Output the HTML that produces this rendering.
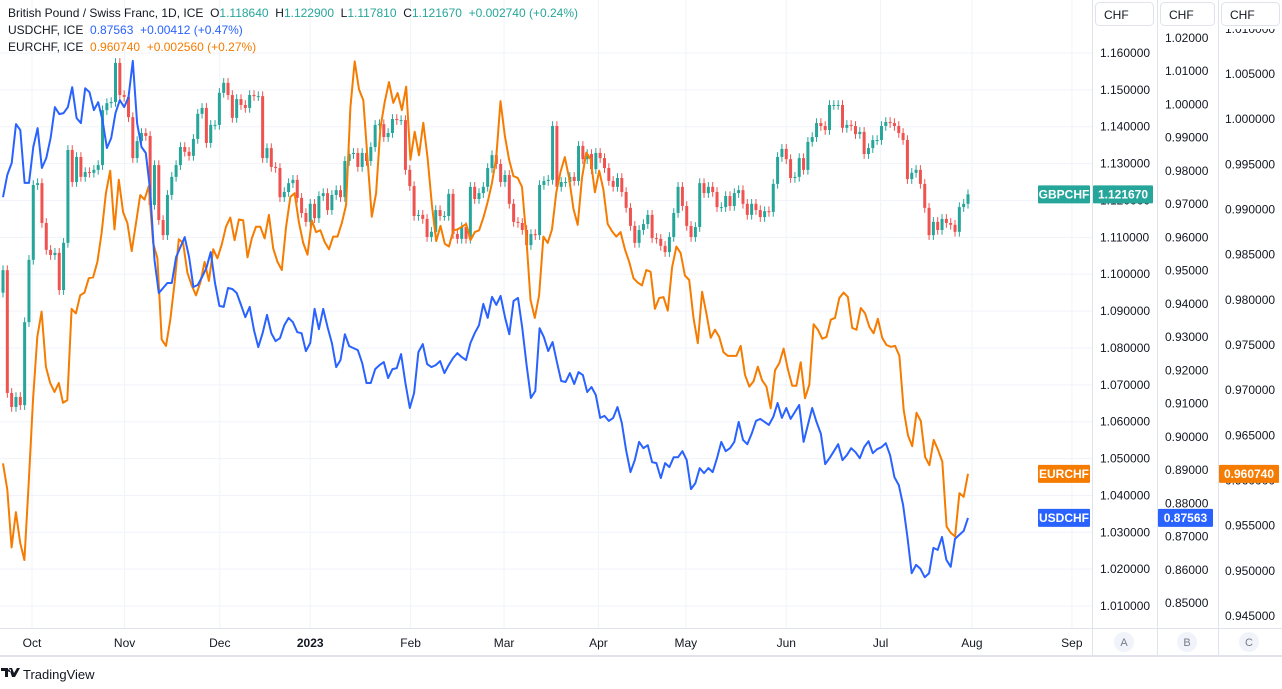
<!DOCTYPE html>
<html><head><meta charset="utf-8">
<style>
html,body{margin:0;padding:0;background:#fff;width:1282px;height:689px;overflow:hidden;font-family:"Liberation Sans",sans-serif;}
svg text{font-family:"Liberation Sans",sans-serif;white-space:pre;}
</style></head>
<body>
<svg id="chart" width="1282" height="689" viewBox="0 0 1282 689" xmlns="http://www.w3.org/2000/svg">
  <g id="grid"></g>
  <g id="candles"></g>
  <g id="lines"></g>
  <g id="axes"></g>
  <g font-size="12">
    <text x="8" y="17" fill="#131722" xml:space="preserve">British Pound / Swiss Franc, 1D, ICE  <tspan fill="#131722">O</tspan><tspan fill="#26a69a">1.118640</tspan>  <tspan fill="#131722">H</tspan><tspan fill="#26a69a">1.122900</tspan>  <tspan fill="#131722">L</tspan><tspan fill="#26a69a">1.117810</tspan>  <tspan fill="#131722">C</tspan><tspan fill="#26a69a">1.121670  +0.002740 (+0.24%)</tspan></text>
    <text x="8" y="34" fill="#131722" xml:space="preserve">USDCHF, ICE  <tspan fill="#2962ff">0.87563  +0.00412 (+0.47%)</tspan></text>
    <text x="8" y="51" fill="#131722" xml:space="preserve">EURCHF, ICE  <tspan fill="#f57c00">0.960740  +0.002560 (+0.27%)</tspan></text>
  </g>
  <g>
    <path d="M1 668h7v9h-3v-6H1z M9 668h3l2 5 3-5h3l-5 9h-3z M9.5 669a1.5 1.5 0 1 0 0.01 0" fill="#131722"/>
    <text x="23" y="679" font-size="13" fill="#131722">TradingView</text>
  </g>
</svg>
<script>
// ---- data ----
const gbpchfClose = [1.1011,1.0678,1.0640,1.0667,1.0645,1.0870,1.1039,1.1242,1.1247,1.1139,1.1066,1.1052,1.1058,1.0957,1.1085,1.1337,1.1250,1.1318,1.1264,1.1277,1.1275,1.1283,1.1296,1.1445,1.1464,1.1467,1.1573,1.1486,1.1481,1.1426,1.1315,1.1361,1.1383,1.1375,1.1188,1.1296,1.1147,1.1106,1.1215,1.1264,1.1296,1.1345,1.1332,1.1321,1.1367,1.1435,1.1451,1.1356,1.1405,1.1405,1.1492,1.1519,1.1486,1.1424,1.1475,1.1459,1.1451,1.1486,1.1483,1.1483,1.1315,1.1342,1.1291,1.1288,1.1209,1.1223,1.1247,1.1256,1.1207,1.1166,1.1142,1.1191,1.1152,1.1212,1.1220,1.1174,
1.1215,1.1228,1.1209,1.1307,1.1326,1.1329,1.1291,1.1329,1.1307,1.1345,1.1405,1.1407,1.1372,1.1383,1.1421,1.1418,1.1418,1.1283,1.1239,1.1158,1.1161,1.1150,1.1101,1.1115,1.1174,1.1158,1.1158,1.1218,1.1109,1.1096,1.1128,1.1096,1.1237,1.1204,1.1220,1.1237,1.1288,1.1323,1.1299,1.1250,1.1269,1.1191,1.1142,1.1139,1.1120,1.1079,1.1109,1.1106,1.1242,1.1253,1.1256,1.1402,1.1237,1.1250,1.1250,1.1264,1.1253,1.1348,1.1312,1.1326,1.1285,1.1329,1.1315,1.1288,1.1253,1.1237,1.1261,1.1223,1.1180,1.1131,1.1085,1.1120,1.1136,1.1161,
1.1098,1.1096,1.1077,1.1060,1.1101,1.1166,1.1237,1.1185,1.1131,1.1101,1.1128,1.1247,1.1220,1.1237,1.1223,1.1182,1.1182,1.1212,1.1185,1.1220,1.1228,1.1191,1.1161,1.1191,1.1174,1.1155,1.1171,1.1169,1.1245,1.1318,1.1340,1.1312,1.1261,1.1264,1.1315,1.1283,1.1359,1.1372,1.1410,1.1402,1.1391,1.1459,1.1459,1.1459,1.1397,1.1405,1.1402,1.1380,1.1386,1.1326,1.1342,1.1364,1.1364,1.1402,1.1413,1.1410,1.1402,1.1383,1.1364,1.1258,1.1275,1.1283,1.1245,1.1180,1.1106,1.1142,1.1120,1.1150,1.1139,1.1134,1.1115,1.1182,1.1191,1.12167];
const usdchf = [0.9721,0.9788,0.9824,0.9941,0.9923,0.9764,0.9764,0.9872,0.9929,0.9809,0.9839,0.9899,0.9992,0.9971,0.9974,0.9992,1.0052,0.9959,0.9944,1.0049,1.0037,0.9983,1.0007,0.9953,0.9869,0.9899,0.9974,1.0013,0.9992,1.0022,1.0131,0.9944,0.9872,0.9854,0.9743,0.9532,0.9433,0.9448,0.9463,0.9463,0.9541,0.9571,0.9601,0.9541,0.9451,0.9457,0.9481,0.9508,0.9556,0.9463,0.9394,0.9391,0.9448,0.9445,0.9433,0.9397,0.9360,0.9391,0.9321,0.9270,0.9312,0.9367,0.9312,0.9288,0.9297,0.9336,0.9358,0.9345,0.9315,0.9312,0.9258,0.9282,0.9385,0.9324,0.9385,0.9330,
0.9282,0.9210,0.9231,0.9309,0.9273,0.9267,0.9261,0.9222,0.9162,0.9162,0.9204,0.9216,0.9225,0.9177,0.9204,0.9207,0.9249,0.9162,0.9087,0.9132,0.9255,0.9279,0.9219,0.9210,0.9216,0.9228,0.9192,0.9216,0.9237,0.9252,0.9240,0.9231,0.9282,0.9312,0.9336,0.9400,0.9358,0.9421,0.9397,0.9424,0.9360,0.9309,0.9409,0.9418,0.9327,0.9216,0.9117,0.9138,0.9327,0.9300,0.9258,0.9285,0.9225,0.9168,0.9165,0.9192,0.9159,0.9195,0.9186,0.9135,0.9150,0.9126,0.9057,0.9063,0.9048,0.9057,0.9090,0.9042,0.8960,0.8894,0.8930,0.8985,0.8966,0.8975,
0.8924,0.8921,0.8876,0.8921,0.8909,0.8939,0.8939,0.8957,0.8930,0.8843,0.8861,0.8906,0.8891,0.8906,0.8894,0.8936,0.8985,0.8957,0.8966,0.8985,0.9045,0.8991,0.8978,0.9009,0.9048,0.9054,0.9045,0.9036,0.9060,0.9102,0.9057,0.9087,0.9054,0.9075,0.9096,0.8985,0.9036,0.9087,0.9045,0.9009,0.8918,0.8936,0.8957,0.8978,0.8930,0.8945,0.8966,0.8954,0.8936,0.8969,0.8987,0.8951,0.8963,0.8969,0.8981,0.8945,0.8879,0.8855,0.8795,0.8699,0.8590,0.8615,0.8603,0.8578,0.8590,0.8666,0.8660,0.8699,0.8630,0.8609,0.8693,0.8705,0.8717,0.87563];
const eurchf = [0.9619,0.9590,0.9526,0.9565,0.9531,0.9512,0.9597,0.9689,0.9759,0.9787,0.9726,0.9708,0.9698,0.9708,0.9686,0.9689,0.9790,0.9785,0.9805,0.9808,0.9824,0.9825,0.9842,0.9874,0.9918,0.9943,0.9878,0.9933,0.9897,0.9885,0.9854,0.9885,0.9916,0.9911,0.9926,0.9863,0.9846,0.9756,0.9749,0.9778,0.9819,0.9867,0.9863,0.9830,0.9816,0.9805,0.9819,0.9842,0.9821,0.9856,0.9846,0.9861,0.9881,0.9891,0.9866,0.9889,0.9888,0.9847,0.9868,0.9881,0.9881,0.9868,0.9894,0.9857,0.9842,0.9833,0.9881,0.9914,0.9918,0.9886,0.9863,0.9850,0.9888,0.9875,0.9877,0.9864,0.9856,0.9870,
0.9870,0.9885,0.9905,1.0013,1.0064,1.0033,1.0021,0.9955,0.9892,0.9918,0.9990,1.0019,1.0041,1.0018,1.0029,1.0010,1.0036,0.9955,0.9986,0.9960,0.9996,0.9957,0.9905,0.9865,0.9882,0.9862,0.9859,0.9877,0.9878,0.9881,0.9884,0.9866,0.9875,0.9877,0.9891,0.9908,0.9929,0.9957,1.0020,0.9982,0.9955,0.9937,0.9935,0.9925,0.9871,0.9800,0.9780,0.9805,0.9870,0.9863,0.9878,0.9919,0.9942,0.9958,0.9935,0.9901,0.9883,0.9935,0.9963,0.9956,0.9919,0.9943,0.9922,0.9884,0.9876,0.9870,0.9875,0.9856,0.9842,0.9824,0.9819,0.9816,0.9833,0.9831,
0.9790,0.9802,0.9803,0.9788,0.9836,0.9859,0.9852,0.9827,0.9822,0.9780,0.9752,0.9809,0.9785,0.9758,0.9767,0.9759,0.9742,0.9738,0.9738,0.9738,0.9749,0.9717,0.9704,0.9710,0.9726,0.9711,0.9704,0.9680,0.9722,0.9730,0.9746,0.9723,0.9705,0.9705,0.9731,0.9691,0.9706,0.9773,0.9767,0.9757,0.9759,0.9778,0.9780,0.9802,0.9808,0.9803,0.9769,0.9767,0.9791,0.9785,0.9770,0.9763,0.9779,0.9758,0.9750,0.9748,0.9749,0.9738,0.9678,0.9650,0.9638,0.9675,0.9666,0.9626,0.9617,0.9645,0.9634,0.9621,0.9549,0.9542,0.9538,0.9586,0.9582,0.960740];
const monthLabels = ["Oct","Nov","Dec","2023","Feb","Mar","Apr","May","Jun","Jul","Aug","Sep"];
const monthBarIndex = [6.7,28.1,50.1,71,94.2,115.8,137.6,157.8,181,202.8,223.9,247];
const ticksA = [1.01,1.02,1.03,1.04,1.05,1.06,1.07,1.08,1.09,1.10,1.11,1.12,1.13,1.14,1.15,1.16];
const ticksB = [0.85,0.86,0.87,0.88,0.89,0.90,0.91,0.92,0.93,0.94,0.95,0.96,0.97,0.98,0.99,1.00,1.01,1.02];
const ticksC = [0.945,0.950,0.955,0.960,0.965,0.970,0.975,0.980,0.985,0.990,0.995,1.000,1.005,1.010];

// ---- scales ----
const NS="http://www.w3.org/2000/svg";
const yA = v => 53 + (1.16 - v) / 0.01 * 36.87;
const yB = v => 38 + (1.02 - v) / 0.01 * 33.24;
const yC = v => 74 + (1.005 - v) / 0.005 * 45.17;
const barW = 965 / (gbpchfClose.length - 1);
const xBar = i => 3 + i * barW;
const xSeries = (i, n) => 3 + i * (965 / (n - 1));
function mk(tag, attrs, parent){const e=document.createElementNS(NS,tag);for(const k in attrs)e.setAttribute(k,attrs[k]);parent.appendChild(e);return e;}

const grid=document.getElementById('grid');
const axes=document.getElementById('axes');
const candles=document.getElementById('candles');
const lines=document.getElementById('lines');

ticksA.forEach(v=>{const l=mk('line',{x1:0,x2:1092,y1:yA(v),y2:yA(v),stroke:'#f0f3fa','stroke-width':1},grid);

});
monthLabels.forEach((m,i)=>{const x=xBar(monthBarIndex[i]);
const l=mk('line',{x1:x,x2:x,y1:0,y2:628,stroke:'#f0f3fa','stroke-width':1},grid);


const t=mk('text',{x:x,y:647,'text-anchor':'middle','font-size':12,fill:'#131722','font-weight':m==='2023'?'bold':'normal'},axes);
t.textContent=m;

});

const up='#26a69a', dn='#ef5350';
gbpchfClose.forEach((c,i)=>{const o=i===0?1.0950:gbpchfClose[i-1];
const hi=Math.max(o,c)+0.0013, lo=Math.min(o,c)-0.0013;
const col=c>=o?up:dn; const x=xBar(i);
const w=mk('line',{x1:x,x2:x,y1:yA(hi),y2:yA(lo),stroke:col,'stroke-width':1},candles);


const top=yA(Math.max(o,c)), bot=yA(Math.min(o,c));
const r=mk('rect',{x:x-1.5,y:top,width:3,height:Math.max(1,bot-top),fill:col},candles);

});

function drawLine(arr, ys, color, name){const n=arr.length;
const d=arr.map((v,i)=>(i?'L':'M')+xSeries(i,n).toFixed(1)+' '+ys(v).toFixed(1)).join(' ');
const p=mk('path',{d:d,fill:'none',stroke:color,'stroke-width':2,'stroke-linejoin':'round'},lines);

}
drawLine(eurchf,yC,'#f57c00','eurchf-line');
drawLine(usdchf,yB,'#2962ff','usdchf-line');

mk('rect',{x:1092,y:0,width:190,height:628,fill:'#fff'},axes);
[1092,1157,1218].forEach(x=>{const l=mk('line',{x1:x+0.5,x2:x+0.5,y1:0,y2:656,stroke:'#e0e3eb'},axes);

});
mk('line',{x1:0,x2:1282,y1:628.5,y2:628.5,stroke:'#e0e3eb'},axes);
mk('rect',{x:0,y:655,width:1282,height:2,fill:'#e0e3eb'},axes);
function ticks(arr, ys, x, dec, name){arr.forEach(v=>{const t=mk('text',{x:x,y:ys(v)+4,'font-size':12,fill:'#131722'},axes);
t.textContent=v.toFixed(dec);

});}
ticks(ticksA,yA,1100,6,'axis-a-tick');
ticks(ticksB,yB,1165,5,'axis-b-tick');
ticks(ticksC,yC,1225,6,'axis-c-tick');

[[1095,58],[1160,54],[1221,58]].forEach(([x,w])=>{mk('rect',{x:x,y:0,width:w+4,height:29,fill:'#fff'},axes);
const b=mk('rect',{x:x+0.5,y:2.5,width:w,height:23,rx:4,fill:'#fff',stroke:'#e0e3eb'},axes);


const t=mk('text',{x:x+9,y:19,'font-size':12,fill:'#131722'},axes);t.textContent='CHF';});

[['A',1124],['B',1187],['C',1249]].forEach(([s,x])=>{const c=mk('circle',{cx:x,cy:642,r:10,fill:'#f0f3fa'},axes);


const t=mk('text',{x:x,y:646,'text-anchor':'middle','font-size':11,fill:'#787b86'},axes);t.textContent=s;});

function tag(x,y,w,color,txt,name){const r=mk('rect',{x:x,y:y-9,width:w,height:18,fill:color,rx:1},axes);


const t=mk('text',{x:x+w/2,y:y+4,'text-anchor':'middle','font-size':12,fill:'#fff','font-weight':'bold'},axes);t.textContent=txt;}
const lastG=gbpchfClose[gbpchfClose.length-1], lastU=usdchf[usdchf.length-1], lastE=eurchf[eurchf.length-1];
tag(1038,yA(lastG),52,'#26a69a','GBPCHF','gbpchf-name-tag');
tag(1093,yA(lastG),60,'#26a69a',lastG.toFixed(6),'gbpchf-price-tag');
tag(1038,yC(lastE),52,'#f57c00','EURCHF','eurchf-name-tag');
tag(1219,yC(lastE),60,'#f57c00',lastE.toFixed(6),'eurchf-price-tag');
tag(1038,yB(lastU),52,'#2962ff','USDCHF','usdchf-name-tag');
tag(1158,yB(lastU),55,'#2962ff',lastU.toFixed(5),'usdchf-price-tag');
</script>
</body></html>
